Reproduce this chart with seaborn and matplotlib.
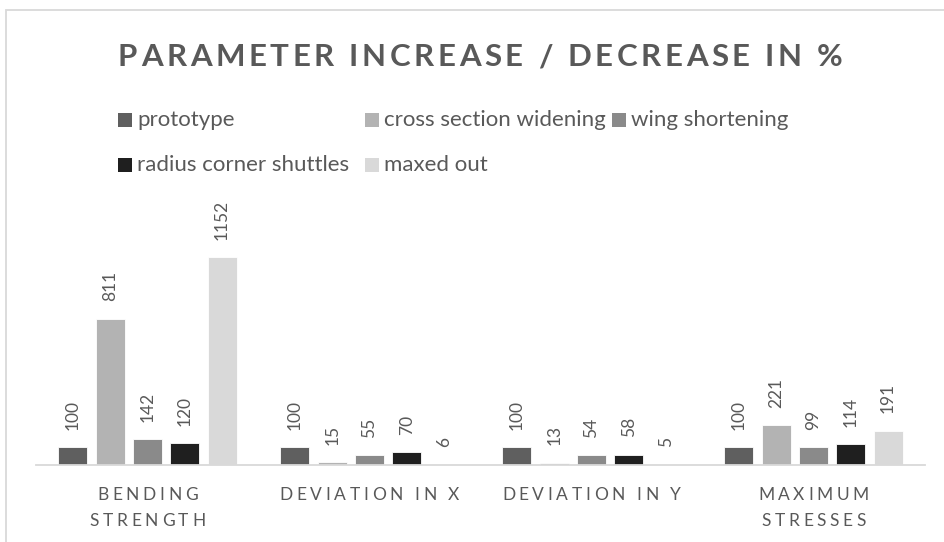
import matplotlib
matplotlib.use("Agg")
import matplotlib.pyplot as plt
import seaborn as sns
import pandas as pd
from matplotlib.patches import Rectangle

categories = ["BENDING\nSTRENGTH", "DEVIATION IN X", "DEVIATION IN Y", "MAXIMUM\nSTRESSES"]
series = ["prototype", "cross section widening", "wing shortening",
          "radius corner shuttles", "maxed out"]
prototype = [100, 100, 100, 100]
cross_section_widening = [811, 15, 13, 221]
wing_shortening = [142, 55, 54, 99]
radius_corner_shuttles = [120, 70, 58, 114]
maxed_out = [1152, 6, 5, 191]
colors = ["#5f5f5f", "#b3b3b3", "#8a8a8a", "#1f1f1f", "#d9d9d9"]
title = "PARAMETER INCREASE / DECREASE IN %"

values = [prototype, cross_section_widening, wing_shortening,
          radius_corner_shuttles, maxed_out]
rows = []
for s, vals in zip(series, values):
    for c, v in zip(categories, vals):
        rows.append({"category": c, "series": s, "value": v})
df = pd.DataFrame(rows)

sns.set_theme(style="white")
plt.rcParams["font.family"] = ["Lato", "DejaVu Sans"]
TXT = "#595959"

W, H = 944, 542
fig = plt.figure(figsize=(W / 100, H / 100), dpi=100)
ax_left, ax_right = 36.5, 924.5
ax_bottom_px, ax_top_px = 465, 230.2
ax = fig.add_axes([ax_left / W, 1 - ax_bottom_px / H,
                   (ax_right - ax_left) / W, (ax_bottom_px - ax_top_px) / H])

sns.barplot(data=df, x="category", y="value", hue="series", order=categories,
            hue_order=series, palette=colors, width=0.84, gap=0.22,
            edgecolor="white", linewidth=0.6, ax=ax, legend=False)

ax.set_ylim(0, 1300)
ax.set_xlim(-0.5, 3.5)
for cont in ax.containers:
    ax.bar_label(cont, labels=[f"{v:.0f}" for v in cont.datavalues],
                 rotation=90, padding=12.5, fontsize=12.5, color=TXT)

ax.set_xticks(range(len(categories)))
ax.set_xticklabels([])
ax.tick_params(axis="x", length=0)
ax.set_yticks([])
ax.set_xlabel("")
ax.set_ylabel("")
for side in ["left", "right", "top"]:
    ax.spines[side].set_visible(False)
ax.spines["bottom"].set_color("#d9d9d9")
ax.spines["bottom"].set_linewidth(1.3)

renderer = fig.canvas.get_renderer()


def text_width(s, **kw):
    t = fig.text(0, 0, s, **kw)
    w = t.get_window_extent(renderer).width
    t.remove()
    return w


def spaced_text(xc, y, s, spacing, **kw):
    """Draw letter-spaced text centred at pixel x=xc, y (from top)."""
    n = len(s)
    total = text_width(s, **kw) + spacing * (n - 1)
    x0 = xc - total / 2
    for i, ch in enumerate(s):
        if ch == " ":
            continue
        right = x0 + text_width(s[:i + 1], **kw) + i * spacing
        fig.text(right / W, 1 - y / H, ch, ha="right", va="center_baseline", **kw)


# title
spaced_text(480, 55, title, 3.6, fontsize=22.5, fontweight="bold", color=TXT)

# category labels (letter-spaced)
xdisp = ax.transData.transform([(i, 0) for i in range(len(categories))])[:, 0]
for xi, cat in zip(xdisp, categories):
    for j, line in enumerate(cat.split("\n")):
        spaced_text(xi, 494 + j * 25.5, line, 3.6, fontsize=12.5, color=TXT)

# legend (laid out in two rows like the original)
legend_pos = [(118, 119.5), (365, 119.5), (612, 119.5), (118, 165), (365, 165)]
for (lx, ly), name, col in zip(legend_pos, series, colors):
    fig.patches.append(Rectangle((lx / W, 1 - (ly + 7) / H), 14 / W, 14 / H,
                                 transform=fig.transFigure, facecolor=col,
                                 edgecolor="none"))
    fig.text((lx + 19) / W, 1 - ly / H, name, ha="left", va="center",
             fontsize=16, color=TXT)

fig.patches.append(Rectangle((6 / W, -0.1), 2, 1.1 - 10 / H, transform=fig.transFigure,
                             fill=False, edgecolor="#d9d9d9", linewidth=1.3))

fig.savefig("out.png", dpi=100, facecolor="white")
